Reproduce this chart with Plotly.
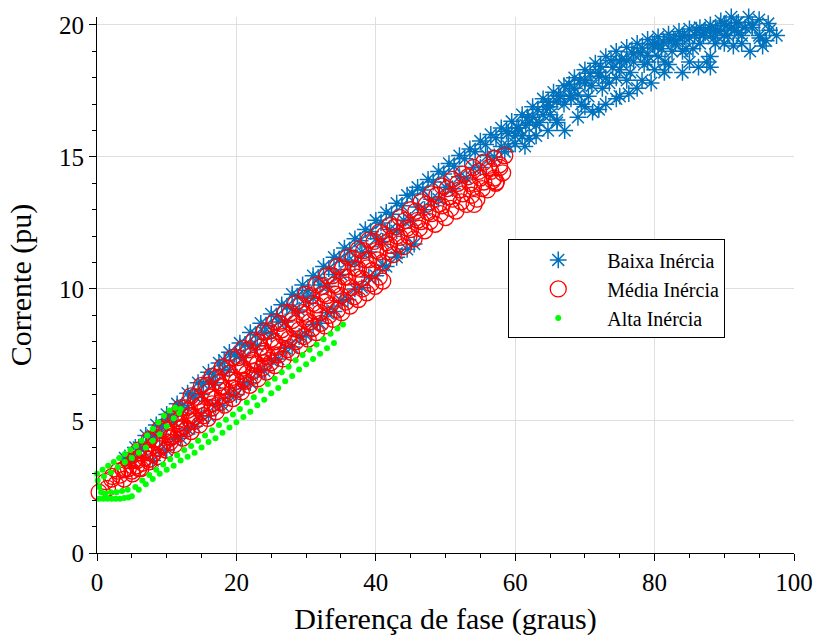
import plotly.graph_objects as go

# ---------------- data ----------------
# Baixa Inércia (blue asterisks)
baixa_x = [
    # upper edge
    4, 5.5, 7, 8.5, 10, 11.5, 13, 14.5, 16, 17.5, 19, 20.5, 22, 23.5, 25, 26.5, 28, 29.5, 31, 32.5,
    34, 35.5, 37, 38.5, 40, 41.5, 43, 44.5, 46, 47.5, 49, 50.5, 52, 53.5, 55, 56.5, 58, 59.5, 61, 62.5,
    64, 65.5, 67, 68.5, 70, 71.5, 73, 74.5, 76, 77.5, 79, 80.5, 82, 83.5, 85, 86.5, 88, 89.5, 91, 92.5,
    93.5, 95, 96.3, 97.5,
    # just below the upper edge
    4.75, 6.25, 7.75, 9.25, 10.75, 12.25, 13.75, 15.25, 16.75, 18.25, 19.75, 21.25, 22.75, 24.25, 25.75,
    27.25, 28.75, 30.25, 31.75, 33.25, 34.75, 36.25, 37.75, 39.25, 40.75, 42.25, 43.75, 45.25, 46.75,
    48.25, 49.75, 51.25, 52.75, 54.25, 55.75, 57.25, 58.75, 60.25, 61.75, 63.25, 64.75, 66.25, 67.75,
    69.25, 70.75, 72.25, 73.75, 75.25, 76.75, 78.25, 79.75, 81.25, 82.75, 84.25, 85.75, 87.25, 88.75,
    90.25, 91.75,
    # middle of the band
    5, 7, 9, 11, 13, 15, 17, 19, 21, 23, 25, 27, 29, 31, 33, 35, 37, 39, 41, 43,
    45, 47, 49, 51, 53, 55, 57, 59, 61, 63, 65, 67, 69, 71, 73, 75, 77, 79, 81, 83,
    85, 87, 89, 91, 93, 95,
    6, 8, 10, 12, 14, 16, 18, 20, 22, 24, 26, 28, 30, 32, 34, 36, 38, 40, 42, 44,
    46, 48, 50, 52, 54, 56, 58, 60, 62, 64, 66, 68, 70, 72, 74, 76, 78, 80, 82, 84,
    86, 88, 90, 92, 94,
    # lower branch
    8, 10, 12, 14, 16, 18, 20, 22, 24, 26, 28, 30, 32, 34, 36, 38, 40, 41.5, 43, 44.5, 45.5,
    9, 11, 13, 15, 17, 19, 21, 23, 25, 27, 29, 31, 33, 35, 37, 39, 41, 43,
    # lower side of the upper-right part
    58.5, 60, 61.4, 63, 64.7, 67.1, 69, 71.1, 73, 74.5, 76.3, 78.2, 80, 81.4, 84, 86.3, 88, 88.7,
    91.3, 93.7, 95.1,
    60.5, 62.5, 64.5, 66.5, 68.5, 70.5, 72.5, 74.5, 76.5, 78.5, 80.5, 82.5, 84.5, 86.5, 88.5, 90.5, 92,
    59, 61.5, 63.5, 65, 66, 68, 69.5, 70, 72, 73.5, 75, 76, 77, 79, 80, 81.5, 83, 84, 85.5, 87,
    88, 89, 90, 91.5, 92.5, 94, 95.5, 96.5,
    62, 66, 70, 72, 75, 77.5, 79.5, 82, 85, 87.5, 90, 92.5, 96,
]
baixa_y = [
    3.6, 4.0, 4.45, 4.85, 5.25, 5.65, 6.05, 6.45, 6.85, 7.2, 7.6, 7.95, 8.35, 8.7, 9.05, 9.4, 9.8, 10.15, 10.5, 10.85,
    11.2, 11.55, 11.9, 12.25, 12.6, 12.9, 13.25, 13.55, 13.85, 14.15, 14.45, 14.75, 15.05, 15.3, 15.6, 15.85, 16.1, 16.35, 16.6, 16.9,
    17.2, 17.45, 17.7, 18.0, 18.3, 18.55, 18.8, 19.0, 19.15, 19.3, 19.45, 19.55, 19.65, 19.75, 19.85, 19.9, 20.0, 20.15, 20.3, 20.35,
    20.3, 20.2, 20.05, 19.6,
    3.55, 3.97, 4.4, 4.8, 5.2, 5.6, 6.0, 6.4, 6.77, 7.3, 7.53, 7.9, 8.27, 8.63, 8.97,
    9.35, 9.73, 9.95, 10.43, 10.77, 11.13, 11.47, 11.83, 12.17, 12.5, 12.83, 13.15, 13.6, 13.75,
    14.05, 14.35, 14.65, 14.93, 15.2, 15.47, 15.73, 15.97, 16.1, 16.5, 16.8, 17.07, 17.33, 17.75,
    17.9, 18.17, 18.43, 18.65, 18.7, 18.97, 19.13, 19.25, 19.35, 19.45, 19.55, 19.63, 19.7, 19.83,
    19.97, 20.07,
    3.5, 4.0, 4.5, 5.0, 5.5, 6.0, 6.45, 6.95, 7.4, 7.85, 8.3, 8.75, 9.2, 9.65, 10.1, 10.55, 11.0, 11.4, 11.8, 12.2,
    12.6, 13.0, 13.4, 13.8, 14.2, 14.6, 15.0, 15.4, 15.8, 16.2, 16.6, 17.0, 17.35, 17.7, 18.0, 18.3, 18.6, 18.85, 19.1, 19.3,
    19.5, 19.6, 19.75, 19.9, 19.9, 19.6,
    4.0, 4.45, 5.05, 5.5, 5.95, 6.5, 6.9, 7.45, 7.85, 8.35, 8.75, 9.25, 9.65, 10.15, 10.55, 11.05, 11.4, 11.9, 12.25, 12.6,
    13.1, 13.4, 13.85, 14.25, 14.6, 15.05, 15.4, 15.8, 16.3, 16.6, 17.1, 17.35, 17.8, 18.05, 18.4, 18.65, 18.95, 19.2, 19.45, 19.6,
    19.8, 19.85, 20.05, 20.1, 20.0,
    3.5, 3.9, 4.35, 4.8, 5.2, 5.6, 6.0, 6.45, 6.9, 7.35, 7.8, 8.25, 8.7, 9.15, 9.6, 10.05, 10.5, 10.85, 11.2, 11.5, 11.7,
    3.9, 4.3, 4.7, 5.2, 5.6, 6.0, 6.4, 6.85, 7.3, 7.75, 8.2, 8.65, 9.1, 9.55, 10.0, 10.45, 10.9, 11.35,
    15.2, 15.5, 15.4, 15.8, 16.0, 16.0, 16.5, 16.7, 17.0, 17.2, 17.4, 17.9, 18.3, 18.2, 18.2, 18.4, 18.4, 19.3,
    19.2, 19.0, 19.5,
    16.1, 16.5, 16.9, 17.3, 17.6, 17.3, 17.6, 18.0, 18.2, 18.5, 18.8, 19.0, 19.1, 19.3, 19.5, 19.6, 19.7,
    15.9, 16.2, 16.3, 16.9, 16.4, 17.2, 17.0, 17.9, 18.2, 17.8, 18.6, 17.9, 18.9, 18.6, 19.3, 18.6, 19.4, 19.0, 19.1, 19.7,
    18.8, 19.8, 19.3, 19.8, 19.6, 19.9, 19.2, 19.8,
    15.7, 16.3, 16.9, 16.8, 17.3, 17.6, 17.8, 18.5, 18.6, 18.6, 19.6, 19.3, 19.4,
]

# Média Inércia (red circles)
media_x = [
    0.3, 1.2, 2.2,
    # lower branch
    1.5, 2.7, 3.9, 5.1, 6.3, 7.5, 8.7, 9.9, 11.1, 12.3, 13.5, 14.7, 15.9, 17.1, 18.3, 19.5, 20.7,
    21.9, 23.1, 24.3, 25.5, 26.7, 27.9, 29.1, 30.3, 31.5, 32.7, 33.9, 35.1, 36.3, 37.5, 38.7, 39.9, 41.0,
    2.1, 3.3, 4.5, 5.7, 6.9, 8.1, 9.3, 10.5, 11.7, 12.9, 14.1, 15.3, 16.5, 17.7, 18.9, 20.1, 21.3,
    22.5, 23.7, 24.9, 26.1, 27.3, 28.5, 29.7, 30.9, 32.1, 33.3, 34.5, 35.7, 36.9, 38.1, 39.3, 40.5,
    10.5, 12, 13.5, 15, 16.5, 18, 19.5, 21, 22.5, 24, 25.5,
    # upper band: top
    3, 4.5, 6, 7.5, 9, 10.5, 12, 13.5, 15, 16.5, 18, 19.5, 21, 22.5, 24, 25.5, 27, 28.5, 30, 31.5,
    33, 34.5, 36, 37.5, 39, 40.5, 42, 43.5, 45, 46.5, 48, 49.5, 51, 52.5, 54, 55.5, 57, 58.5,
    3.75, 5.25, 6.75, 8.25, 9.75, 11.25, 12.75, 14.25, 15.75, 17.25, 18.75, 20.25, 21.75, 23.25, 24.75,
    26.25, 27.75, 29.25, 30.75, 32.25, 33.75, 35.25, 36.75, 38.25, 39.75, 41.25, 42.75, 44.25, 45.75,
    47.25, 48.75, 50.25, 51.75, 53.25, 54.75, 56.25, 57.75,
    # upper band: middle
    4, 5.5, 7, 8.5, 10, 11.5, 13, 14.5, 16, 17.5, 19, 20.5, 22, 23.5, 25, 26.5, 28, 29.5, 31, 32.5,
    34, 35.5, 37, 38.5, 40, 41.5, 43, 44.5, 46, 47.5, 49, 50.5, 52, 53.5, 55, 56.5, 57.8,
    6, 7.5, 9, 10.5, 12, 13.5, 15, 16.5, 18, 19.5, 21, 22.5, 24, 25.5, 27, 28.5, 30, 31.5,
    33, 34.5, 36, 37.5, 39, 40.5, 42, 43.5, 45, 46.5, 48, 49.5, 51, 52.5, 54, 55.5, 57,
    # upper band: bottom
    5.75, 7.25, 8.75, 10.25, 11.75, 13.25, 14.75, 16.25, 17.75, 19.25, 20.75, 22.25, 23.75, 25.25,
    26.75, 28.25, 29.75, 31.25, 32.75, 34.25, 35.75, 37.25, 38.75, 40.25, 41.75, 43.25, 44.75, 46.25,
    47.75, 49.25, 50.75, 52.25, 53.75, 55.25, 56.75,
    5, 6.5, 8, 9.5, 11, 12.5, 14, 15.5, 17, 18.5, 20, 21.5, 23, 24.5, 26, 27.5, 29, 30.5, 32, 33.5,
    35, 36.5, 38, 39.5, 41, 42.5, 44, 45.5, 47, 48.5, 50, 51.5, 53, 54.5, 56, 57.3,
    54.1, 57.2, 58.2,
]
media_y = [
    2.3, 2.7, 2.9,
    2.45, 2.6, 2.8, 3.0, 3.2, 3.45, 3.65, 3.9, 4.1, 4.35, 4.6, 4.85, 5.1, 5.35, 5.6, 5.85, 6.1,
    6.35, 6.6, 6.85, 7.1, 7.35, 7.6, 7.85, 8.1, 8.35, 8.6, 8.85, 9.1, 9.35, 9.6, 9.85, 10.1, 10.3,
    2.8, 2.95, 3.2, 3.3, 3.6, 3.75, 4.05, 4.2, 4.5, 4.7, 5.0, 5.2, 5.5, 5.7, 6.0, 6.2, 6.5,
    6.7, 7.0, 7.2, 7.5, 7.7, 8.0, 8.2, 8.5, 8.7, 9.0, 9.2, 9.5, 9.7, 10.0, 10.2, 10.45,
    4.4, 4.7, 5.0, 5.35, 5.65, 5.95, 6.25, 6.55, 6.9, 7.2, 7.5,
    3.1, 3.5, 3.9, 4.3, 4.7, 5.1, 5.5, 5.95, 6.35, 6.7, 7.05, 7.4, 7.75, 8.05, 8.4, 8.75, 9.1, 9.45, 9.8, 10.15,
    10.5, 10.85, 11.2, 11.5, 11.85, 12.15, 12.4, 12.7, 13.0, 13.3, 13.6, 13.9, 14.15, 14.35, 14.6, 14.8, 14.95, 15.05,
    3.15, 3.5, 3.85, 4.3, 4.7, 5.1, 5.5, 5.9, 6.35, 6.65, 7.0, 7.4, 7.7, 8.0, 8.4,
    8.7, 9.1, 9.4, 9.75, 10.1, 10.5, 10.8, 11.15, 11.45, 11.8, 12.05, 12.35, 12.6, 12.95,
    13.2, 13.55, 13.8, 14.0, 14.25, 14.45, 14.6, 14.7,
    3.2, 3.55, 3.9, 4.3, 4.65, 5.0, 5.4, 5.75, 6.1, 6.45, 6.8, 7.1, 7.45, 7.8, 8.1, 8.45, 8.8, 9.1, 9.45, 9.8,
    10.15, 10.45, 10.8, 11.1, 11.45, 11.75, 12.0, 12.3, 12.6, 12.9, 13.2, 13.5, 13.75, 14.0, 14.2, 14.45, 14.6,
    3.2, 3.55, 3.95, 4.35, 4.75, 5.2, 5.6, 5.95, 6.3, 6.65, 7.0, 7.3, 7.65, 8.0, 8.35, 8.7, 9.05, 9.4,
    9.75, 10.1, 10.45, 10.75, 11.1, 11.4, 11.65, 11.95, 12.25, 12.55, 12.85, 13.15, 13.4, 13.6, 13.85, 14.05, 14.2,
    3.5, 3.8, 4.2, 4.5, 4.9, 5.2, 5.6, 5.9, 6.3, 6.55, 6.9, 7.2, 7.55, 7.85,
    8.2, 8.5, 8.85, 9.15, 9.5, 9.8, 10.15, 10.45, 10.8, 11.1, 11.4, 11.7, 12.0, 12.3,
    12.55, 12.85, 13.05, 13.3, 13.55, 13.8, 14.1,
    3.1, 3.4, 3.75, 4.1, 4.45, 4.8, 5.15, 5.5, 5.85, 6.15, 6.5, 6.8, 7.15, 7.45, 7.8, 8.1, 8.45, 8.75, 9.1, 9.4,
    9.75, 10.05, 10.4, 10.7, 11.0, 11.3, 11.6, 11.9, 12.2, 12.45, 12.7, 12.95, 13.2, 13.4, 13.75, 14.05,
    13.2, 14.0, 14.4,
]

# Alta Inércia (green dots)
alta_x = [0, 0.8, 1.6, 2.4, 3.2, 4.0, 4.8, 5.6, 6.4, 7.2, 8.0, 8.8, 9.6, 10.4, 11.2, 12,
          1.0, 2.0, 3.0, 4.0, 5.0, 6.0, 7.0, 8.0, 9.0, 10.0, 11.0, 11.8,
          0.1, 0.3, 0.6,
          0.3, 0.9, 1.5, 2.1, 2.7, 3.3, 3.9, 4.5, 5.0,
          1.2, 2.0, 2.8, 3.6, 4.4,
          5.5, 6.5, 7.5, 8.5, 9.5, 10.5, 11.5, 12.5, 13.5, 14.5, 15.5, 16.5, 17.5, 18.5, 19.5, 20.5,
          21.5, 22.5, 23.5, 24.5, 25.5, 26.5, 27.5, 28.5, 29.5, 30.5, 31.5, 32.5, 33.5, 34.5, 35.3,
          6, 7, 8, 9, 10, 11, 12, 13, 14, 15, 16, 17, 18, 19, 20, 21, 22, 23, 24, 25,
          26, 27, 28, 29, 30, 31, 32, 33, 34]
alta_y = [3.0, 3.15, 3.3, 3.45, 3.6, 3.75, 3.9, 4.05, 4.25, 4.45, 4.7, 4.95, 5.2, 5.4, 5.5, 5.45,
          2.9, 3.05, 3.25, 3.45, 3.6, 3.8, 4.0, 4.25, 4.5, 4.8, 5.1, 5.3,
          2.75, 2.5, 2.3,
          2.05, 2.05, 2.05, 2.05, 2.05, 2.05, 2.08, 2.1, 2.15,
          2.25, 2.3, 2.3, 2.35, 2.4,
          2.5, 2.75, 2.95, 3.15, 3.35, 3.55, 3.7, 3.9, 4.05, 4.25, 4.45, 4.65, 4.85, 5.05, 5.25, 5.45,
          5.7, 5.9, 6.15, 6.4, 6.6, 6.85, 7.05, 7.3, 7.5, 7.7, 7.9, 8.1, 8.3, 8.5, 8.65,
          2.4, 2.6, 2.8, 3.0, 3.15, 3.3, 3.5, 3.65, 3.8, 4.0, 4.2, 4.35, 4.55, 4.75, 4.95, 5.15, 5.35, 5.6, 5.8, 6.05,
          6.25, 6.5, 6.7, 6.95, 7.15, 7.35, 7.55, 7.75, 7.95]

series_names = ["Baixa Inércia", "Média Inércia", "Alta Inércia"]
x_ticks = [0, 20, 40, 60, 80, 100]
y_ticks = [0, 5, 10, 15, 20]

FONT = "Liberation Serif, Times New Roman, DejaVu Serif, serif"
BLUE = "#0072BD"
RED = "#FF0000"
GREEN = "#00FF00"

fig = go.Figure()
fig.add_trace(go.Scatter(
    x=baixa_x, y=baixa_y, mode="markers", name=series_names[0], cliponaxis=False,
    marker=dict(symbol="asterisk-open", size=14, color=BLUE, line=dict(width=1.5, color=BLUE)),
))
fig.add_trace(go.Scatter(
    x=media_x, y=media_y, mode="markers", name=series_names[1], cliponaxis=False,
    marker=dict(symbol="circle-open", size=16, color=RED, line=dict(width=1.3, color=RED)),
))
fig.add_trace(go.Scatter(
    x=alta_x, y=alta_y, mode="markers", name=series_names[2], cliponaxis=False,
    marker=dict(symbol="circle", size=6, color=GREEN, line=dict(width=0)),
))

axis_common = dict(
    showline=True, linecolor="black", linewidth=1,
    ticks="outside", ticklen=7, tickwidth=1, tickcolor="black",
    showgrid=True, gridcolor="#DFDFDF", gridwidth=1,
    zeroline=False, mirror=False,
    tickfont=dict(family=FONT, size=25, color="black"),
)

fig.update_layout(
    width=825, height=641,
    margin=dict(l=97, r=21, t=13, b=87),
    paper_bgcolor="white", plot_bgcolor="white",
    font=dict(family=FONT, color="black"),
    xaxis=dict(
        range=[0, 100], tickvals=x_ticks, ticktext=[str(v) for v in x_ticks],
        minor=dict(dtick=5, ticks="outside", ticklen=4, tickcolor="black", showgrid=False),
        title=dict(text="Diferença de fase (graus)", font=dict(family=FONT, size=30), standoff=12),
        **axis_common,
    ),
    yaxis=dict(
        range=[0, 20.3], tickvals=y_ticks, ticktext=[str(v) for v in y_ticks],
        minor=dict(dtick=1, ticks="outside", ticklen=4, tickcolor="black", showgrid=False),
        title=dict(text="Corrente (pu)", font=dict(family=FONT, size=30), standoff=18),
        **axis_common,
    ),
    legend=dict(
        x=0.59, y=0.585, xanchor="left", yanchor="top",
        bgcolor="white", bordercolor="black", borderwidth=1,
        font=dict(family=FONT, size=20, color="black"),
        itemwidth=88,
    ),
    showlegend=True,
)

fig.write_html("out.html")
